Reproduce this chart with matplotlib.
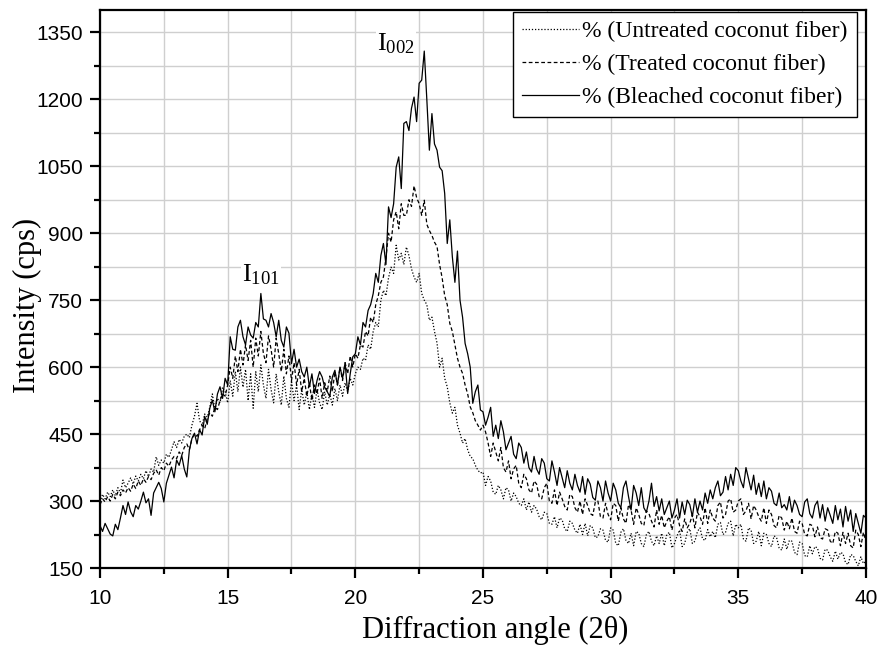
# %%
# =========================
# SETUP
# =========================

import matplotlib
matplotlib.use("Agg")
import matplotlib.pyplot as plt
import numpy as np
from matplotlib.ticker import MultipleLocator

# %%
# =========================
# DATA (0.1 deg steps)
# =========================

angle = np.linspace(10.0, 40.0, 301)

untreated = [
    298, 315, 305, 320, 310, 325, 312, 330, 318, 347,
    330, 340, 352, 338, 356, 345, 360, 350, 368, 355,
    372, 365, 399, 380, 392, 385, 405, 398, 415, 433,
    420, 438, 430, 445, 450, 442, 470, 490, 519, 480,
    470, 495, 488, 510, 540, 505, 530, 520, 555, 545,
    520, 570, 535, 590, 545, 600, 555, 595, 525, 585,
    508, 590, 545, 605, 560, 530, 595, 550, 520, 585,
    545, 515, 580, 530, 510, 570, 525, 560, 505, 550,
    515, 545, 505, 540, 510, 550, 520, 505, 545, 515,
    540, 515, 552, 525, 560, 535, 565, 545, 575, 560,
    585, 600, 595, 620, 615, 650, 640, 680, 700, 690,
    750, 772, 760, 800, 824, 810, 873, 840, 855, 830,
    869, 850, 820, 802, 790, 810, 765, 750, 740, 705,
    712, 680, 654, 600, 620, 575, 556, 520, 497, 510,
    470, 452, 430, 440, 415, 400, 395, 380, 369, 363,
    365, 335, 355, 345, 320, 315, 335, 325, 305, 330,
    325, 300, 318, 310, 295, 290, 305, 280, 298, 275,
    290, 282, 265, 258, 275, 272, 250, 248, 265, 240,
    262, 258, 238, 232, 255, 250, 235, 228, 248, 225,
    250, 222, 245, 240, 218, 220, 238, 235, 212, 208,
    240, 235, 205, 200, 230, 238, 212, 205, 228, 200,
    232, 228, 205, 198, 225, 232, 210, 200, 222, 205,
    228, 200, 225, 230, 195, 205, 222, 235, 198, 205,
    230, 238, 205, 210, 232, 240, 215, 212, 236, 220,
    232, 218, 248, 252, 225, 230, 250, 255, 222, 248,
    240, 248, 215, 210, 240, 235, 205, 210, 232, 200,
    228, 225, 205, 198, 222, 218, 195, 190, 215, 192,
    212, 210, 185, 180, 208, 205, 178, 175, 200, 182,
    198, 195, 172, 168, 192, 190, 175, 165, 188, 170,
    185, 182, 162, 158, 180, 178, 165, 155, 175, 160,
    165,
]

treated = [
    292, 305, 298, 310, 300, 315, 305, 320, 312, 325,
    318, 330, 322, 338, 328, 345, 335, 350, 342, 355,
    348, 362, 370, 358, 375, 368, 385, 378, 392, 400,
    395, 410, 402, 420, 428, 415, 440, 450, 445, 460,
    470, 462, 485, 498, 490, 510, 505, 525, 540, 535,
    560, 600, 575, 625, 590, 640, 605, 650, 615, 660,
    600, 665, 625, 680, 630, 610, 670, 640, 600, 665,
    630, 590, 640, 585, 625, 570, 610, 560, 595, 545,
    575, 535, 565, 525, 560, 540, 575, 530, 565, 545,
    580, 545, 590, 560, 600, 570, 610, 585, 625, 600,
    630, 620, 650, 645, 680, 670, 712, 700, 740, 760,
    790, 802, 845, 900, 880, 930, 948, 910, 966, 940,
    940, 975, 960, 1006, 980, 966, 940, 974, 920, 906,
    895, 880, 870, 830, 800, 760, 740, 698, 680, 650,
    620, 600, 586, 560, 540, 511, 498, 480, 470, 459,
    470, 455, 430, 400, 430, 410, 390, 420, 375, 365,
    390, 350, 372, 380, 340, 330, 360, 350, 325, 318,
    345, 338, 310, 305, 330, 340, 300, 295, 325, 290,
    320, 305, 288, 280, 315, 310, 285, 275, 300, 270,
    305, 290, 272, 268, 298, 300, 265, 262, 295, 270,
    258, 295, 290, 255, 285, 260, 250, 292, 280, 248,
    285, 270, 250, 245, 278, 272, 255, 242, 280, 248,
    268, 240, 255, 265, 235, 262, 270, 245, 232, 260,
    240, 250, 270, 240, 275, 265, 248, 285, 250, 280,
    262, 255, 290, 298, 262, 270, 300, 305, 275, 280,
    300, 305, 270, 278, 295, 260, 290, 280, 265, 255,
    285, 250, 280, 270, 245, 240, 268, 262, 235, 255,
    238, 262, 232, 228, 255, 250, 225, 222, 248, 245,
    220, 242, 218, 215, 238, 235, 210, 205, 232, 228,
    200, 230, 205, 228, 200, 195, 235, 225, 198, 230,
    210,
]

bleached = [
    245, 232, 250, 238, 226, 222, 248, 236, 262, 290,
    270, 298, 276, 265, 290, 282, 300, 320, 296, 305,
    268, 318, 330, 342, 328, 298, 340, 358, 376, 352,
    392, 380, 402, 372, 354, 414, 440, 452, 428, 460,
    448, 490, 472, 508, 526, 500, 540, 556, 530, 575,
    560, 668, 640, 638, 690, 705, 668, 650, 690, 672,
    665, 700, 690, 765, 708, 705, 690, 720, 700, 668,
    705, 660, 645, 690, 676, 608, 640, 600, 618, 590,
    578, 600, 556, 585, 541, 570, 590, 578, 555, 545,
    534, 578, 593, 560, 600, 575, 610, 541, 585, 623,
    630, 668, 650, 700, 690, 727, 740, 765, 810, 790,
    850, 877, 830, 959, 935, 966, 1048, 1071, 1000, 1146,
    1150, 1130, 1180, 1205, 1150, 1236, 1243, 1308, 1200, 1086,
    1168, 1100, 1086, 1048, 1040, 989, 877, 930, 847, 790,
    860, 750, 712, 653, 630, 600, 519, 545, 560, 504,
    500, 470, 488, 510, 445, 470, 440, 480, 455, 415,
    430, 445, 405, 395, 430, 420, 385, 410, 375, 365,
    400, 372, 360, 395, 385, 350, 345, 390, 365, 335,
    375, 352, 330, 368, 340, 325, 360, 335, 320, 355,
    315, 350, 338, 308, 302, 345, 330, 300, 345, 318,
    300, 340, 325, 295, 285, 330, 345, 310, 280, 335,
    318, 290, 330, 285, 275, 300, 340, 288, 310, 278,
    305, 270, 285, 300, 262, 280, 305, 262, 298, 270,
    302, 292, 265, 305, 275, 300, 280, 318, 295, 325,
    305, 330, 345, 312, 320, 355, 325, 360, 335, 375,
    368, 345, 330, 375, 350, 325, 358, 315, 340, 310,
    345, 305, 330, 322, 295, 290, 318, 285, 292, 280,
    310, 275, 302, 290, 270, 265, 298, 305, 272, 262,
    290, 300, 262, 292, 255, 285, 268, 250, 290, 258,
    282, 242, 288, 255, 280, 232, 272, 250, 228, 268,
    262,
]

labels = [
    "% (Untreated coconut fiber)",
    "% (Treated coconut fiber)",
    "% (Bleached coconut fiber)",
]

assert len(untreated) == len(treated) == len(bleached) == len(angle)

# %%
# =========================
# PLOT
# =========================

serif = "Liberation Serif"
sans = "Liberation Sans"

fig = plt.figure(figsize=(8.78, 6.46), dpi=100)
ax = fig.add_axes([0.1139, 0.1207, 0.8724, 0.8638])

ax.plot(angle, untreated, color="black", lw=0.9, linestyle=(0, (1, 1.5)), label=labels[0])
ax.plot(angle, treated, color="black", lw=0.9, linestyle=(0, (3, 2)), label=labels[1])
ax.plot(angle, bleached, color="black", lw=0.9, linestyle="-", label=labels[2])

ax.set_xlim(10, 40)
ax.set_ylim(150, 1400)
ax.xaxis.set_major_locator(MultipleLocator(5))
ax.xaxis.set_minor_locator(MultipleLocator(2.5))
ax.yaxis.set_major_locator(MultipleLocator(150))
ax.yaxis.set_minor_locator(MultipleLocator(75))

ax.grid(True, which="both", color="#cfcfcf", lw=1.0)
ax.set_axisbelow(True)

for s in ax.spines.values():
    s.set_linewidth(1.6)
ax.tick_params(which="major", direction="out", length=7, width=1.6, labelsize=15)
ax.tick_params(which="minor", direction="out", length=4, width=1.6)
ax.tick_params(axis="x", pad=8)
ax.tick_params(axis="y", pad=5)
for t in ax.get_xticklabels() + ax.get_yticklabels():
    t.set_fontfamily(sans)

ax.set_xlabel("Diffraction angle (2θ)", fontfamily=serif, fontsize=22)
ax.set_ylabel("Intensity (cps)", fontfamily=serif, fontsize=22)
ax.xaxis.set_label_coords(0.516, -0.085)
ax.yaxis.set_label_coords(-0.076, 0.471)

# peak labels
ax.text(16.3, 780, r"$\mathregular{I_{101}}$", fontfamily=serif, fontsize=19,
        ha="center", va="bottom", bbox=dict(facecolor="white", edgecolor="none", pad=1))
ax.text(21.6, 1296, r"$\mathregular{I_{002}}$", fontfamily=serif, fontsize=19,
        ha="center", va="bottom", bbox=dict(facecolor="white", edgecolor="none", pad=1))

leg = ax.legend(loc="upper right", bbox_to_anchor=(0.988, 0.997), borderaxespad=0,
                prop={"family": serif, "size": 17}, handlelength=2.4, handletextpad=0.15,
                labelspacing=0.48, borderpad=0.38, fancybox=False, framealpha=1)
leg.get_frame().set_edgecolor("black")
leg.get_frame().set_linewidth(1.0)

fig.savefig("out.png", dpi=100)
